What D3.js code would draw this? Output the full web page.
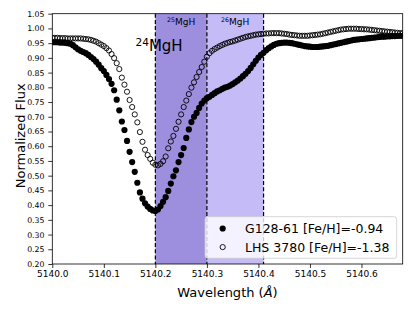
<!DOCTYPE html>
<html lang="en">
<head>
<meta charset="utf-8">
<title>MgH band</title>
<script src="https://cdnjs.cloudflare.com/ajax/libs/d3/7.8.5/d3.min.js"></script>
<style>
  body { margin: 0; background: #fff; }
  svg { display: block; font-family: "DejaVu Sans", sans-serif; }
</style>
</head>
<body>
<svg id="chart" width="415" height="311"></svg>
<script type="text/javascript">
// wavelength grid (Angstrom) shared by both spectra
var wave = [
  5140.000,5140.005,5140.010,5140.015,5140.020,5140.025,5140.030,5140.035,5140.040,5140.045,
  5140.050,5140.055,5140.060,5140.065,5140.070,5140.075,5140.080,5140.085,5140.090,5140.095,
  5140.100,5140.105,5140.110,5140.115,5140.120,5140.125,5140.130,5140.135,5140.140,5140.145,
  5140.150,5140.155,5140.160,5140.165,5140.170,5140.175,5140.180,5140.185,5140.190,5140.195,
  5140.200,5140.205,5140.210,5140.215,5140.220,5140.225,5140.230,5140.235,5140.240,5140.245,
  5140.250,5140.255,5140.260,5140.265,5140.270,5140.275,5140.280,5140.285,5140.290,5140.295,
  5140.300,5140.305,5140.310,5140.315,5140.320,5140.325,5140.330,5140.335,5140.340,5140.345,
  5140.350,5140.355,5140.360,5140.365,5140.370,5140.375,5140.380,5140.385,5140.390,5140.395,
  5140.400,5140.405,5140.410,5140.415,5140.420,5140.425,5140.430,5140.435,5140.440,5140.445,
  5140.450,5140.455,5140.460,5140.465,5140.470,5140.475,5140.480,5140.485,5140.490,5140.495,
  5140.500,5140.505,5140.510,5140.515,5140.520,5140.525,5140.530,5140.535,5140.540,5140.545,
  5140.550,5140.555,5140.560,5140.565,5140.570,5140.575,5140.580,5140.585,5140.590,5140.595,
  5140.600,5140.605,5140.610,5140.615,5140.620,5140.625,5140.630,5140.635,5140.640,5140.645,
  5140.650,5140.655,5140.660,5140.665,5140.670,5140.675,5140.680
];

// G128-61, filled circles
var fluxG128 = [
  0.953,0.953,0.953,0.952,0.952,0.951,0.950,0.948,0.943,0.936,
  0.929,0.924,0.920,0.916,0.910,0.903,0.896,0.887,0.877,0.865,
  0.855,0.842,0.828,0.812,0.790,0.758,0.722,0.684,0.655,0.618,
  0.581,0.546,0.513,0.476,0.443,0.422,0.406,0.395,0.387,0.382,
  0.380,0.385,0.397,0.411,0.427,0.448,0.473,0.498,0.518,0.546,
  0.570,0.594,0.628,0.657,0.682,0.700,0.713,0.730,0.745,0.755,
  0.763,0.768,0.774,0.780,0.786,0.790,0.795,0.799,0.802,0.806,
  0.811,0.817,0.823,0.830,0.838,0.846,0.855,0.866,0.878,0.890,
  0.901,0.910,0.917,0.926,0.933,0.939,0.944,0.948,0.950,0.951,
  0.952,0.952,0.951,0.950,0.948,0.946,0.944,0.942,0.940,0.939,
  0.938,0.937,0.937,0.937,0.938,0.939,0.940,0.941,0.943,0.945,
  0.947,0.949,0.951,0.953,0.955,0.957,0.959,0.961,0.962,0.963,
  0.964,0.965,0.966,0.967,0.968,0.969,0.970,0.971,0.972,0.972,
  0.973,0.973,0.974,0.974,0.975,0.975,0.975
];

// LHS 3780, open circles
var fluxLHS3780 = [
  0.968,0.968,0.968,0.967,0.967,0.967,0.966,0.966,0.966,0.966,
  0.966,0.966,0.965,0.964,0.963,0.961,0.958,0.955,0.950,0.945,
  0.940,0.933,0.925,0.913,0.899,0.882,0.862,0.833,0.809,0.785,
  0.757,0.733,0.708,0.681,0.648,0.615,0.588,0.570,0.557,0.544,
  0.537,0.535,0.540,0.549,0.565,0.593,0.616,0.635,0.659,0.683,
  0.708,0.733,0.755,0.777,0.799,0.817,0.835,0.852,0.869,0.887,
  0.904,0.916,0.924,0.930,0.935,0.940,0.944,0.948,0.951,0.954,
  0.956,0.959,0.962,0.965,0.968,0.971,0.973,0.975,0.977,0.979,
  0.980,0.981,0.982,0.983,0.983,0.984,0.984,0.984,0.984,0.983,
  0.982,0.981,0.979,0.978,0.977,0.976,0.975,0.975,0.975,0.975,
  0.976,0.977,0.978,0.979,0.980,0.982,0.984,0.986,0.988,0.990,
  0.992,0.994,0.996,0.997,0.998,0.999,0.999,0.999,0.999,0.998,
  0.998,0.997,0.997,0.996,0.995,0.994,0.993,0.992,0.991,0.990,
  0.989,0.988,0.987,0.986,0.985,0.984,0.984
];

// isotopic regions and their boundaries
var bandEdges = [5140.2, 5140.3, 5140.41];
var bandColors = ["#9d8fde", "#c5bcf7"];
var bandLabels = ["25", "26"];

var xTicks = [5140.0, 5140.1, 5140.2, 5140.3, 5140.4, 5140.5, 5140.6];
var yTicks = [0.20, 0.25, 0.30, 0.35, 0.40, 0.45, 0.50, 0.55, 0.60,
              0.65, 0.70, 0.75, 0.80, 0.85, 0.90, 0.95, 1.00, 1.05];

var legendNames = ["G128-61 [Fe/H]=-0.94", "LHS 3780 [Fe/H]=-1.38"];

//////////////////////////////////////
var width = 415, height = 311;
var margin = {top: 13.7, right: 12.3, bottom: 47, left: 52.3};

var svg = d3.select("#chart");

var x = d3.scaleLinear().domain([5140.0, 5140.68])
  .range([margin.left, width - margin.right]);
var y = d3.scaleLinear().domain([0.20, 1.05])
  .range([height - margin.bottom, margin.top]);

svg.append("defs").append("clipPath").attr("id", "plotclip")
  .append("rect")
  .attr("x", x.range()[0]).attr("y", y.range()[1])
  .attr("width", x.range()[1] - x.range()[0])
  .attr("height", y.range()[0] - y.range()[1]);

// shaded bands
for (var i = 0; i < 2; i++) {
  svg.append("rect")
    .attr("x", x(bandEdges[i])).attr("y", y(1.05))
    .attr("width", x(bandEdges[i + 1]) - x(bandEdges[i]))
    .attr("height", y(0.20) - y(1.05))
    .attr("fill", bandColors[i]);
}

// dashed boundaries
svg.selectAll(".vline").data(bandEdges).enter().append("line")
  .attr("class", "vline")
  .attr("x1", function(d) { return x(d); }).attr("x2", function(d) { return x(d); })
  .attr("y1", y(1.05)).attr("y2", y(0.20))
  .attr("stroke", "#000").attr("stroke-width", 1.2)
  .attr("stroke-dasharray", "4,2.2");

// spectra
var pts = svg.append("g").attr("clip-path", "url(#plotclip)");

pts.selectAll(".g128").data(wave).enter().append("circle")
  .attr("class", "g128")
  .attr("cx", function(d) { return x(d); })
  .attr("cy", function(d, i) { return y(fluxG128[i]); })
  .attr("r", 3.1)
  .attr("fill", "#000");

pts.selectAll(".lhs").data(wave).enter().append("circle")
  .attr("class", "lhs")
  .attr("cx", function(d) { return x(d); })
  .attr("cy", function(d, i) { return y(fluxLHS3780[i]); })
  .attr("r", 2.6)
  .attr("fill", "none")
  .attr("stroke", "#000").attr("stroke-width", 0.9);

// axes
var xAxis = d3.axisBottom(x).tickValues(xTicks).tickFormat(d3.format(".1f"))
  .tickSize(4).tickPadding(3);
var yAxis = d3.axisLeft(y).tickValues(yTicks).tickFormat(d3.format(".2f"))
  .tickSize(4).tickPadding(3.8);

var gx = svg.append("g").attr("transform", "translate(0," + y(0.20) + ")").call(xAxis);
var gy = svg.append("g").attr("transform", "translate(" + x(5140.0) + ",0)").call(yAxis);
[gx, gy].forEach(function(g) {
  g.select(".domain").remove();
  g.selectAll("line").attr("stroke", "#000").attr("stroke-width", 0.8);
  g.selectAll("text").attr("fill", "#000").attr("font-family", "DejaVu Sans");
});
gx.selectAll("text").attr("font-size", 9);
gy.selectAll("text").attr("font-size", 7.8);

// frame
svg.append("rect")
  .attr("x", x.range()[0]).attr("y", y.range()[1])
  .attr("width", x.range()[1] - x.range()[0])
  .attr("height", y.range()[0] - y.range()[1])
  .attr("fill", "none").attr("stroke", "#000").attr("stroke-width", 0.8);

// isotope labels
bandLabels.forEach(function(lab, i) {
  var t = svg.append("text")
    .attr("x", (x(bandEdges[i]) + x(bandEdges[i + 1])) / 2)
    .attr("y", 25).attr("text-anchor", "middle")
    .attr("font-size", 9);
  t.append("tspan").attr("font-size", 6.3).attr("dy", -3).text(lab);
  t.append("tspan").attr("dy", 3).text("MgH");
});

var t24 = svg.append("text").attr("x", 135.5).attr("y", 51).attr("font-size", 15);
t24.append("tspan").attr("font-size", 10.5).attr("dy", -5.5).text("24");
t24.append("tspan").attr("dy", 5.5).text("MgH");

// axis titles
svg.append("text")
  .attr("transform", "translate(25," + ((y(0.20) + y(1.05)) / 2 - 3) + ") rotate(-90)")
  .attr("text-anchor", "middle").attr("font-size", 13)
  .text("Normalized Flux");

var xl = svg.append("text")
  .attr("x", (x.range()[0] + x.range()[1]) / 2).attr("y", 297)
  .attr("text-anchor", "middle").attr("font-size", 13);
xl.append("tspan").text("Wavelength (");
xl.append("tspan").attr("font-style", "italic").text("\u00c5");
xl.append("tspan").text(")");

// legend
var leg = svg.append("g");
leg.append("rect")
  .attr("x", 205).attr("y", 216.7).attr("width", 191.7).attr("height", 41.6)
  .attr("rx", 2.5)
  .attr("fill", "#fff").attr("fill-opacity", 0.8)
  .attr("stroke", "#ccc").attr("stroke-width", 0.8);

legendNames.forEach(function(name, i) {
  var ly = 228.5 + i * 18.6;
  var c = leg.append("circle").attr("cx", 222.7).attr("cy", ly);
  if (i === 0) c.attr("r", 3.1).attr("fill", "#000");
  else c.attr("r", 2.6).attr("fill", "none").attr("stroke", "#000").attr("stroke-width", 0.9);
  leg.append("text").attr("x", 245).attr("y", ly + 4.5)
    .attr("font-size", 12.5).text(name);
});
</script>
</body>
</html>
